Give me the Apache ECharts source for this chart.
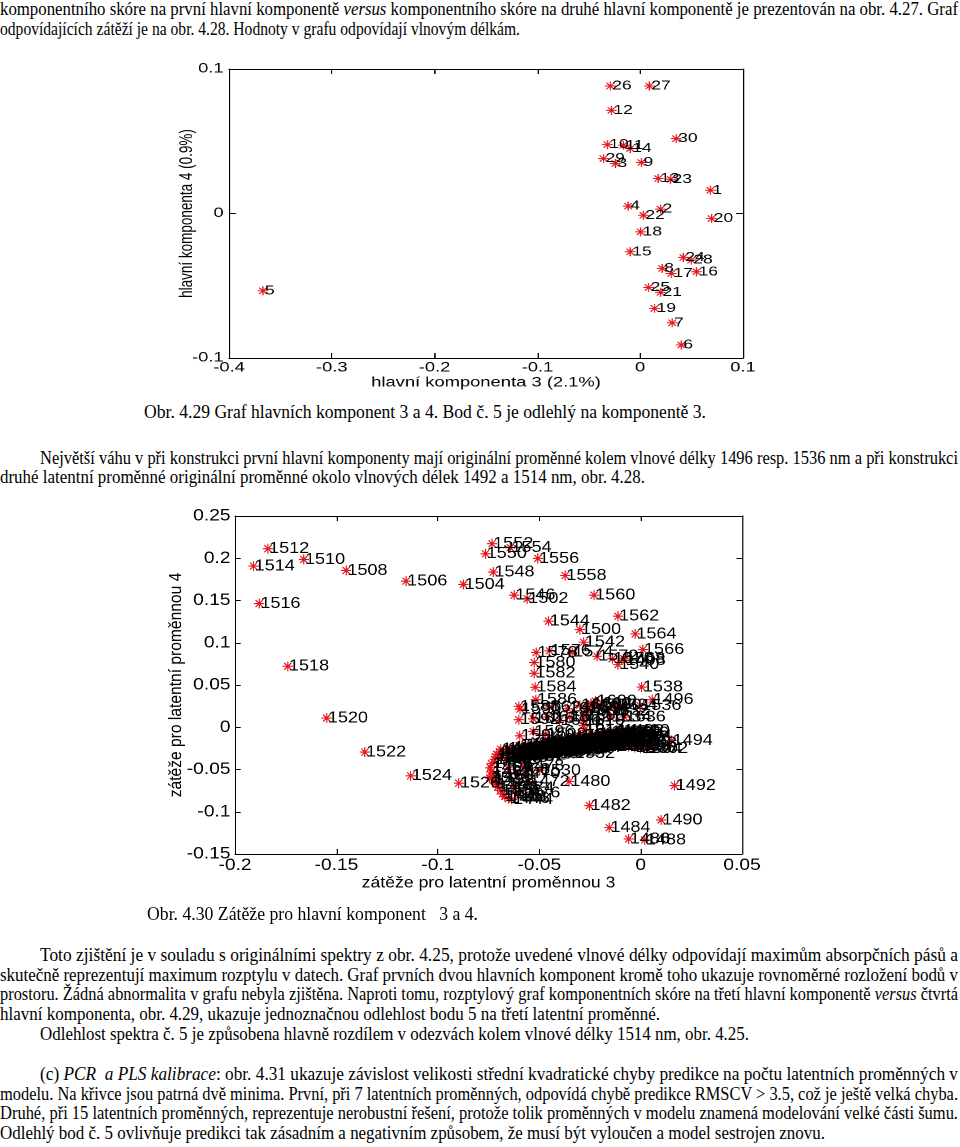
<!DOCTYPE html>
<html>
<head>
<meta charset="utf-8">
<script src="https://cdn.jsdelivr.net/npm/echarts@6/dist/echarts.min.js"></script>
<style>
html, body { margin: 0; padding: 0; background: #fff; }
#page { position: relative; width: 960px; height: 1147px; overflow: hidden; background: #fff; }
.chart { position: absolute; transform-origin: 0 0; }
#scores { left: 150px; top: 40px; width: 456px; height: 360px; transform: scaleX(1.36); }
#loadings { left: 140px; top: 490px; width: 566px; height: 420px; transform: scaleX(1.13); }
.ln { position: absolute; white-space: pre; font-family: "Liberation Serif", serif;
      font-size: 18.5px; line-height: 20px; color: #000; transform-origin: 0 50%; }
</style>
</head>
<body>
<div id="page">
  <div id="scores" class="chart"></div>
  <div id="loadings" class="chart"></div>
</div>
<script>
// ---- Obr. 4.29: component scores, PC3 vs PC4, labelled by sample number
const sampleIds = [1, 2, 3, 4, 5, 6, 7, 8, 9, 10, 11, 12, 13, 14, 15,
  16, 17, 18, 19, 20, 21, 22, 23, 24, 25, 26, 27, 28, 29, 30];
const pc3Scores = [0.0684, 0.0198, -0.0241, -0.0117, -0.3670, 0.0400, 0.0311, 0.0214, 0.0012, -0.0319,
  -0.0163, -0.0280, 0.0175, -0.0097, -0.0097, 0.0548, 0.0303, 0.0004, 0.0140, 0.0695,
  0.0198, 0.0031, 0.0295, 0.0420, 0.0082, -0.0291, 0.0089, 0.0497, -0.0357, 0.0350];
const pc4Scores = [0.0161, 0.0030, 0.0346, 0.0051, -0.0535, -0.0910, -0.0756, -0.0380, 0.0353, 0.0477,
  0.0472, 0.0714, 0.0242, 0.0449, -0.0265, -0.0403, -0.0415, -0.0127, -0.0657, -0.0035,
  -0.0546, -0.0012, 0.0237, -0.0304, -0.0512, 0.0882, 0.0882, -0.0323, 0.0380, 0.0518];

// ---- Obr. 4.30: loadings for latent variables 3 and 4, labelled by wavelength [nm, lv3, lv4]
const outerLoadings = [
  [1480, -0.0353, -0.0642], [1482, -0.0253, -0.0927], [1484, -0.0155, -0.1188], [1486, -0.0059, -0.1322],
  [1488, 0.0020, -0.1334], [1490, 0.0101, -0.1097], [1492, 0.0167, -0.0690], [1494, 0.0152, -0.0156],
  [1496, 0.0057, 0.0326], [1498, -0.0080, 0.0790], [1500, -0.0300, 0.1156], [1502, -0.0560, 0.1520],
  [1504, -0.0874, 0.1690], [1506, -0.1157, 0.1729], [1508, -0.1452, 0.1856], [1510, -0.1661, 0.1986],
  [1512, -0.1838, 0.2113], [1514, -0.1909, 0.1907], [1516, -0.1881, 0.1464], [1518, -0.1740, 0.0721],
  [1520, -0.1548, 0.0109], [1522, -0.1360, -0.0294], [1524, -0.1134, -0.0575], [1526, -0.0897, -0.0662],
  [1528, -0.0745, -0.0600], [1530, -0.0498, -0.0510], [1532, -0.0330, -0.0310], [1534, -0.0150, 0.0120],
  [1536, -0.0003, 0.0259], [1538, 0.0005, 0.0476], [1540, -0.0112, 0.0741], [1542, -0.0281, 0.1006],
  [1544, -0.0454, 0.1255], [1546, -0.0624, 0.1563], [1548, -0.0727, 0.1836], [1550, -0.0765, 0.2053],
  [1552, -0.0733, 0.2172], [1554, -0.0643, 0.2125], [1556, -0.0507, 0.1998], [1558, -0.0372, 0.1796],
  [1560, -0.0230, 0.1563], [1562, -0.0112, 0.1314], [1564, -0.0027, 0.1105], [1566, 0.0011, 0.0919],
  [1568, -0.0083, 0.0810], [1570, -0.0140, 0.0810], [1572, -0.0215, 0.0840], [1574, -0.0338, 0.0887],
  [1576, -0.0450, 0.0905], [1578, -0.0515, 0.0885], [1580, -0.0525, 0.0765], [1582, -0.0525, 0.0638],
  [1584, -0.0520, 0.0473], [1586, -0.0517, 0.0326], [1588, -0.0601, 0.0247], [1590, -0.0595, 0.0215],
  [1592, -0.0601, 0.0089], [1594, -0.0596, -0.0101], [1596, -0.0530, -0.0050], [1598, -0.0470, -0.0080]
];
const upperLoadings = [
  [1600, -0.0223, 0.0310], [1602, -0.0245, 0.0280], [1604, -0.0260, 0.0240], [1606, -0.0270, 0.0190],
  [1608, -0.0278, 0.0140], [1610, -0.0282, 0.0080], [1612, -0.0282, 0.0020], [1614, -0.0280, -0.0040],
  [1616, -0.0530, 0.0100], [1618, -0.0460, 0.0120], [1620, -0.0400, 0.0080], [1622, -0.0350, 0.0120],
  [1624, -0.0450, 0.0240], [1626, -0.0360, 0.0220], [1628, -0.0300, 0.0260], [1630, -0.0200, 0.0260],
  [1632, -0.0160, 0.0200], [1634, -0.0120, 0.0260], [1636, -0.0080, 0.0120]
];
const curlLoadings = [
  [1444, -0.0635, -0.0855], [1446, -0.0652, -0.0845], [1448, -0.0670, -0.0820], [1450, -0.0682, -0.0790],
  [1452, -0.0692, -0.0750], [1454, -0.0705, -0.0710], [1456, -0.0715, -0.0670], [1458, -0.0727, -0.0626],
  [1460, -0.0732, -0.0580], [1462, -0.0738, -0.0530], [1464, -0.0741, -0.0480], [1466, -0.0735, -0.0430],
  [1468, -0.0650, -0.0500], [1470, -0.0600, -0.0550], [1472, -0.0554, -0.0642], [1474, -0.0630, -0.0720],
  [1476, -0.0600, -0.0780], [1478, -0.0580, -0.0460]
];
const denseLoadings = [
  [1442, -0.069, -0.026], [1440, -0.066, -0.025], [1438, -0.063, -0.024], [1436, -0.060, -0.022],
  [1434, -0.057, -0.021], [1432, -0.054, -0.020], [1430, -0.051, -0.019], [1428, -0.048, -0.018],
  [1426, -0.045, -0.017], [1424, -0.042, -0.016], [1422, -0.039, -0.015], [1420, -0.036, -0.014],
  [1418, -0.033, -0.012], [1416, -0.030, -0.011], [1414, -0.027, -0.010], [1412, -0.024, -0.009],
  [1410, -0.021, -0.008], [1408, -0.018, -0.007], [1406, -0.015, -0.006], [1404, -0.012, -0.005],
  [1402, -0.009, -0.004], [1400, -0.006, -0.004],
  [1398, -0.071, -0.032], [1396, -0.068, -0.031], [1394, -0.065, -0.030], [1392, -0.062, -0.029],
  [1390, -0.059, -0.028], [1388, -0.056, -0.027], [1386, -0.053, -0.026], [1384, -0.050, -0.025],
  [1382, -0.047, -0.024], [1380, -0.044, -0.023], [1378, -0.041, -0.022], [1376, -0.038, -0.021],
  [1374, -0.035, -0.020], [1372, -0.032, -0.019], [1370, -0.029, -0.018], [1368, -0.026, -0.017],
  [1366, -0.023, -0.016], [1364, -0.020, -0.015], [1362, -0.017, -0.014], [1360, -0.014, -0.013],
  [1358, -0.011, -0.012], [1356, -0.008, -0.011], [1354, -0.005, -0.010],
  [1352, -0.072, -0.038], [1350, -0.069, -0.037], [1348, -0.066, -0.036], [1346, -0.063, -0.035],
  [1344, -0.060, -0.034], [1342, -0.057, -0.033], [1340, -0.054, -0.032], [1338, -0.051, -0.031],
  [1336, -0.048, -0.030], [1334, -0.045, -0.029], [1332, -0.042, -0.028], [1330, -0.039, -0.027],
  [1328, -0.036, -0.026], [1326, -0.033, -0.025], [1324, -0.030, -0.024], [1322, -0.027, -0.023],
  [1320, -0.024, -0.022], [1318, -0.021, -0.022], [1316, -0.018, -0.021], [1314, -0.015, -0.021],
  [1312, -0.012, -0.021], [1310, -0.009, -0.022], [1308, -0.006, -0.023], [1306, -0.003, -0.024],
  [1304, 0.000, -0.025], [1302, 0.003, -0.025],
  [1298, -0.0695, -0.029], [1296, -0.0665, -0.028], [1294, -0.0635, -0.027], [1292, -0.0605, -0.0255],
  [1290, -0.0575, -0.0245], [1288, -0.0545, -0.0235], [1286, -0.0515, -0.0225], [1284, -0.0485, -0.0215],
  [1282, -0.0455, -0.0205], [1280, -0.0425, -0.0195], [1278, -0.0395, -0.0185], [1276, -0.0365, -0.0175],
  [1274, -0.0335, -0.016], [1272, -0.0305, -0.015], [1270, -0.0275, -0.0135], [1268, -0.0245, -0.0125],
  [1266, -0.0215, -0.0115], [1264, -0.0185, -0.0105], [1262, -0.0155, -0.0095], [1260, -0.0125, -0.0085],
  [1258, -0.0095, -0.0075], [1256, -0.0065, -0.007],
  [1254, -0.0715, -0.035], [1252, -0.0685, -0.034], [1250, -0.0655, -0.033], [1248, -0.0625, -0.032],
  [1246, -0.0595, -0.031], [1244, -0.0565, -0.030], [1242, -0.0535, -0.029], [1240, -0.0505, -0.028],
  [1238, -0.0475, -0.027], [1236, -0.0445, -0.026], [1234, -0.0415, -0.025], [1232, -0.0385, -0.024],
  [1230, -0.0355, -0.023], [1228, -0.0325, -0.022], [1226, -0.0295, -0.021], [1224, -0.0265, -0.020],
  [1222, -0.0235, -0.019], [1220, -0.0205, -0.0185], [1218, -0.0175, -0.018], [1216, -0.0145, -0.0175],
  [1214, -0.0115, -0.017], [1212, -0.0085, -0.0165], [1210, -0.0055, -0.017], [1208, -0.0025, -0.019]
];

// ---- document text, one entry per printed line: [left, middle y, width, html]
const textLines = [
  [0, 9, 958, 'komponentního skóre na první hlavní komponentě <i>versus</i> komponentního skóre na druhé hlavní komponentě je prezentován na obr. 4.27. Graf'],
  [0, 29, 520, 'odpovídajících zátěží je na obr. 4.28. Hodnoty v grafu odpovídají vlnovým délkám.'],
  [144, 412, 562, 'Obr. 4.29 Graf hlavních komponent 3 a 4. Bod č. 5 je odlehlý na komponentě 3.'],
  [40, 458, 918, 'Největší váhu v při konstrukci první hlavní komponenty mají originální proměnné kolem vlnové délky 1496 resp. 1536 nm a při konstrukci'],
  [0, 477, 645, 'druhé latentní proměnné originální proměnné okolo vlnových délek 1492 a 1514 nm, obr. 4.28.'],
  [147, 914, 331, 'Obr. 4.30 Zátěže pro hlavní komponent   3 a 4.'],
  [40, 955, 918, 'Toto zjištění je v souladu s originálními spektry z obr. 4.25, protože uvedené vlnové délky odpovídají maximům absorpčních pásů a'],
  [0, 975, 958, 'skutečně reprezentují maximum rozptylu v datech. Graf prvních dvou hlavních komponent kromě toho ukazuje rovnoměrné rozložení bodů v'],
  [0, 994, 958, 'prostoru. Žádná abnormalita v grafu nebyla zjištěna. Naproti tomu, rozptylový graf komponentních skóre na třetí hlavní komponentě <i>versus</i> čtvrtá'],
  [0, 1014, 660, 'hlavní komponenta, obr. 4.29, ukazuje jednoznačnou odlehlost bodu 5 na třetí latentní proměnné.'],
  [40, 1034, 709, 'Odlehlost spektra č. 5 je způsobena hlavně rozdílem v odezvách kolem vlnové délky 1514 nm, obr. 4.25.'],
  [40, 1074, 918, '(c) <i>PCR  a PLS kalibrace</i>: obr. 4.31 ukazuje závislost velikosti střední kvadratické chyby predikce na počtu latentních proměnných v'],
  [0, 1094, 958, 'modelu. Na křivce jsou patrná dvě minima. První, při 7 latentních proměnných, odpovídá chybě predikce RMSCV &gt; 3.5, což je ještě velká chyba.'],
  [0, 1113, 958, 'Druhé, při 15 latentních proměnných, reprezentuje nerobustní řešení, protože tolik proměnných v modelu znamená modelování velké části šumu.'],
  [0, 1133, 825, 'Odlehlý bod č. 5 ovlivňuje predikci tak zásadním a negativním způsobem, že musí být vyloučen a model sestrojen znovu.']
];

const page = document.getElementById('page');
textLines.forEach(([x, y, w, html]) => {
  const d = document.createElement('div');
  d.className = 'ln';
  d.innerHTML = html;
  page.appendChild(d);
  const natural = d.getBoundingClientRect().width;
  d.style.left = x + 'px';
  d.style.top = (y - 10) + 'px';
  d.style.transform = 'scaleX(' + (w / natural) + ')';
});

const red = '#e3161d';
const ink = '#000';
const star = 'path://M-0.11,-1L0.11,-1L0.11,1L-0.11,1ZM-1,-0.11L1,-0.11L1,0.11L-1,0.11Z' +
  'M-0.78,-0.62L-0.62,-0.78L0.78,0.62L0.62,0.78ZM0.62,-0.78L0.78,-0.62L-0.62,0.78L-0.78,0.62Z';
const sans = 'Liberation Sans, Arial, sans-serif';

function boxAxes(min, max, interval, fontSize, name, nameGap, isX) {
  const main = {
    type: 'value', min: min, max: max, interval: interval,
    position: isX ? 'bottom' : 'left',
    axisLine: { show: true, onZero: false, lineStyle: { color: ink, width: 1 } },
    axisTick: { show: true, inside: true, length: 5, lineStyle: { color: ink } },
    axisLabel: { show: true, color: ink, fontFamily: sans, fontSize: fontSize, margin: isX ? 3 : 4,
      showMinLabel: true, showMaxLabel: true },
    splitLine: { show: false },
    name: name, nameLocation: 'middle', nameGap: nameGap, nameMoveOverlap: false,
    nameTextStyle: { color: ink, fontFamily: sans, fontSize: fontSize }
  };
  const mirror = {
    type: 'value', min: min, max: max, interval: interval,
    position: isX ? 'top' : 'right',
    axisLine: { show: true, onZero: false, lineStyle: { color: ink, width: 1 } },
    axisTick: { show: true, inside: true, length: 5, lineStyle: { color: ink } },
    axisLabel: { show: false },
    splitLine: { show: false }
  };
  return [main, mirror];
}

function starSeries(data, size, fontSize, dist) {
  return {
    type: 'scatter',
    data: data,
    symbol: star,
    symbolSize: size,
    itemStyle: { color: red, opacity: 1 },
    label: {
      show: true, position: 'right', distance: dist,
      formatter: (p) => String(p.value[2]),
      color: ink, fontFamily: sans, fontSize: fontSize
    },
    labelLayout: { hideOverlap: false },
    emphasis: { disabled: true },
    silent: true,
    animation: false
  };
}

// chart 1
const scoreChart = echarts.init(document.getElementById('scores'), null, { devicePixelRatio: 2 });
const scoreData = sampleIds.map((id, i) => [pc3Scores[i], pc4Scores[i], id]);
const sx = boxAxes(-0.4, 0.1, 0.1, 13.5, 'hlavní komponenta 3 (2.1%)', 18, true);
const sy = boxAxes(-0.1, 0.1, 0.1, 13.5, 'hlavní komponenta 4 (0.9%)', 24, false);
scoreChart.setOption({
  animation: false,
  backgroundColor: 'transparent',
  grid: { left: 58.1, top: 29, width: 377.9, height: 289, containLabel: false },
  xAxis: sx,
  yAxis: sy,
  series: [Object.assign(starSeries(scoreData, [8, 9], 12.8, -2.5), { xAxisIndex: 0, yAxisIndex: 0 })]
});

// chart 2
const loadChart = echarts.init(document.getElementById('loadings'), null, { devicePixelRatio: 2 });
const loadData = [].concat(denseLoadings, curlLoadings, upperLoadings, outerLoadings)
  .map(([wl, a, b]) => [a, b, wl]);
const lx = boxAxes(-0.2, 0.05, 0.05, 17, 'zátěže pro latentní proměnnou 3', 21, true);
const ly = boxAxes(-0.15, 0.25, 0.05, 17, 'zátěže pro latentní proměnnou 4', 44, false);
lx[0].nameTextStyle.fontSize = 15.6;
ly[0].nameTextStyle.fontSize = 15.6;
loadChart.setOption({
  animation: false,
  backgroundColor: 'transparent',
  grid: { left: 84.1, top: 26, width: 448.7, height: 338, containLabel: false },
  xAxis: lx,
  yAxis: ly,
  series: [Object.assign(starSeries(loadData, [9, 10], 16, -3.5), { xAxisIndex: 0, yAxisIndex: 0 })]
});
</script>
</body>
</html>
